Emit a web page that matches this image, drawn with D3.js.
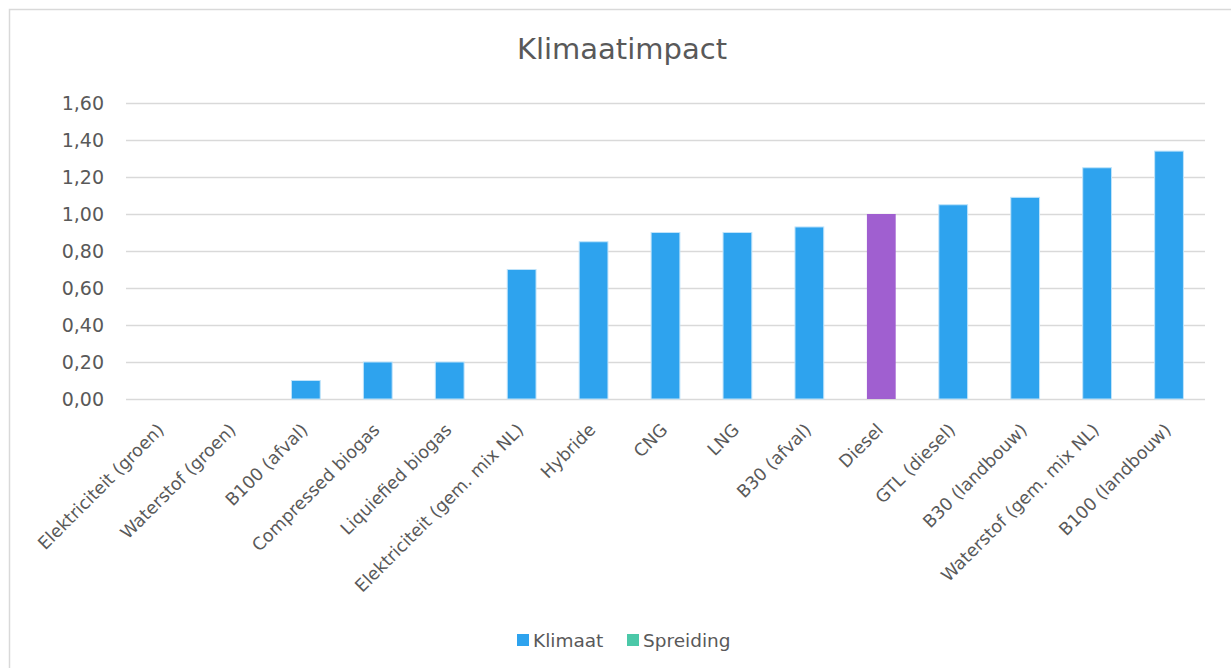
<!DOCTYPE html>
<html><head><meta charset="utf-8">
<script src="https://cdn.jsdelivr.net/npm/d3@7"></script>
<style>body{margin:0;background:#fff}svg{display:block}</style>
</head><body><svg id="c" width="1231" height="668"></svg>
<script>
const categories = ["Elektriciteit (groen)","Waterstof (groen)","B100 (afval)","Compressed biogas","Liquiefied biogas","Elektriciteit (gem. mix NL)","Hybride","CNG","LNG","B30 (afval)","Diesel","GTL (diesel)","B30 (landbouw)","Waterstof (gem. mix NL)","B100 (landbouw)"];
const klimaat = [0,0,0.10,0.20,0.20,0.70,0.85,0.90,0.90,0.93,1.00,1.05,1.09,1.25,1.34];
const highlight = ["Diesel"];
const yTicks = [0,0.2,0.4,0.6,0.8,1.0,1.2,1.4,1.6];
const legendItems = ["Klimaat","Spreiding"];
const colors = {Klimaat:"#2EA3EE", Spreiding:"#4BC8A8", highlight:"#A05FD0"};

const font = "'DejaVu Sans', sans-serif";
const svg = d3.select("#c");
svg.append("rect").attr("x",9.5).attr("y",9.5).attr("width",1240).attr("height",680)
  .attr("fill","#fff").attr("stroke","#d9d9d9").attr("stroke-width",1.5);

const m = {l:126, r:1205, t:103, b:399};
const x = d3.scaleBand().domain(categories).range([m.l,m.r]).paddingInner(0.6).paddingOuter(0.3);
const y = d3.scaleLinear().domain([0,1.6]).range([m.b,m.t]);
const fmt = v => d3.format(".2f")(v).replace(".",",");

const ya = svg.append("g").attr("transform",`translate(${m.l},0)`)
  .call(d3.axisLeft(y).tickValues(yTicks).tickFormat(fmt).tickSize(-(m.r-m.l)).tickPadding(22));
ya.select(".domain").remove();
ya.selectAll(".tick line").attr("stroke","#d9d9d9").attr("stroke-width",1.5);
ya.selectAll(".tick text").attr("fill","#595959").style("font-family",font).style("font-size","19px");

svg.append("g").selectAll("rect").data(categories).join("rect")
  .attr("x",d=>x(d)).attr("width",x.bandwidth())
  .attr("y",(d,i)=>y(klimaat[i])).attr("height",(d,i)=>y(0)-y(klimaat[i]))
  .attr("fill",d=>highlight.includes(d)?colors.highlight:colors.Klimaat)
  .attr("stroke",d=>highlight.includes(d)?"none":"#bfe3fa").attr("stroke-width",1);

const xa = svg.append("g").attr("transform",`translate(0,${m.b})`)
  .call(d3.axisBottom(x).tickSize(0).tickPadding(0));
xa.select(".domain").remove();
xa.selectAll(".tick text").attr("fill","#595959").style("font-family",font).style("font-size","17.5px")
  .attr("text-anchor","end").attr("dy","0").attr("dx","0")
  .attr("transform","translate(3,32) rotate(-45)");

svg.append("text").attr("x",622).attr("y",59).attr("text-anchor","middle")
  .attr("fill","#595959").style("font-family",font).style("font-size","29px").text("Klimaatimpact");

const lg = svg.append("g").attr("transform","translate(517,647)");
const lgX = [0,110];
legendItems.forEach((k,i)=>{
  const g = lg.append("g").attr("transform",`translate(${lgX[i]},0)`);
  g.append("rect").attr("x",0).attr("y",-13).attr("width",12).attr("height",12).attr("fill",colors[k]);
  g.append("text").attr("x",16).attr("y",0).attr("fill","#595959").style("font-family",font).style("font-size","18.5px").text(k);
});
</script></body></html>
